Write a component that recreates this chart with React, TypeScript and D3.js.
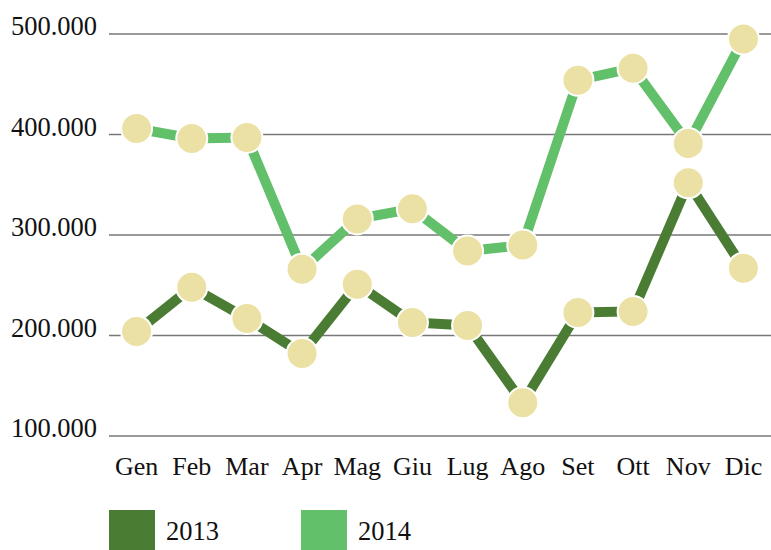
import React from "react";
import * as d3 from "d3";

const months = ["Gen", "Feb", "Mar", "Apr", "Mag", "Giu", "Lug", "Ago", "Set", "Ott", "Nov", "Dic"];
const values2013 = [204000, 248000, 217000, 182000, 251000, 213000, 210000, 133000, 223000, 224000, 352000, 267000];
const values2014 = [406000, 396000, 397000, 266000, 316000, 326000, 284000, 290000, 454000, 466000, 391000, 495000];
const yTicks = [100000, 200000, 300000, 400000, 500000];
const seriesNames = ["2013", "2014"];
const seriesColors = ["#4a7d33", "#62bf6a"];

const W = 771;
const H = 550;
const FONT = "Liberation Serif";

export default function App() {
  const x = d3.scalePoint<string>().domain(months).range([109, 771]).padding(0.5);
  const y = d3.scaleLinear().domain([100000, 500000]).range([436, 34]);
  const fmt = (v: number) => d3.format(",")(v).replace(/,/g, ".");
  const line = d3
    .line<number>()
    .x((_, i) => x(months[i]) as number)
    .y((d) => y(d));
  const series = [values2013, values2014];
  const ts = { fontFamily: FONT };

  return (
    <svg width={W} height={H} style={{ position: "absolute", left: 0, top: 0, background: "#fff" }}>
      <g>
        {yTicks.map((t) => (
          <g key={t}>
            <line x1={109} x2={771} y1={y(t)} y2={y(t)} stroke="#777" strokeWidth={1.3} />
            <text x={97} y={y(t) + 1} textAnchor="end" style={ts} fontSize={26.5} fill="#111">
              {fmt(t)}
            </text>
          </g>
        ))}
      </g>
      <g>
        {months.map((m) => (
          <text key={m} x={x(m)} y={475} textAnchor="middle" style={ts} fontSize={26} fill="#111">
            {m}
          </text>
        ))}
      </g>
      <g>
        {series.map((s, i) => (
          <path key={i} d={line(s) || ""} fill="none" stroke={seriesColors[i]} strokeWidth={10} strokeLinejoin="miter" />
        ))}
      </g>
      <g>
        {series.map((s, i) =>
          s.map((v, j) => (
            <circle key={`${i}-${j}`} cx={x(months[j])} cy={y(v)} r={15.5} fill="#ebe1a5" stroke="#fff" strokeWidth={2} />
          ))
        )}
      </g>
      <g>
        {seriesNames.map((n, i) => (
          <g key={n} transform={`translate(${109 + i * 192},510)`}>
            <rect x={0} y={0} width={46} height={40} fill={seriesColors[i]} />
            <text x={57} y={30} style={ts} fontSize={26.5} fill="#111">
              {n}
            </text>
          </g>
        ))}
      </g>
    </svg>
  );
}
